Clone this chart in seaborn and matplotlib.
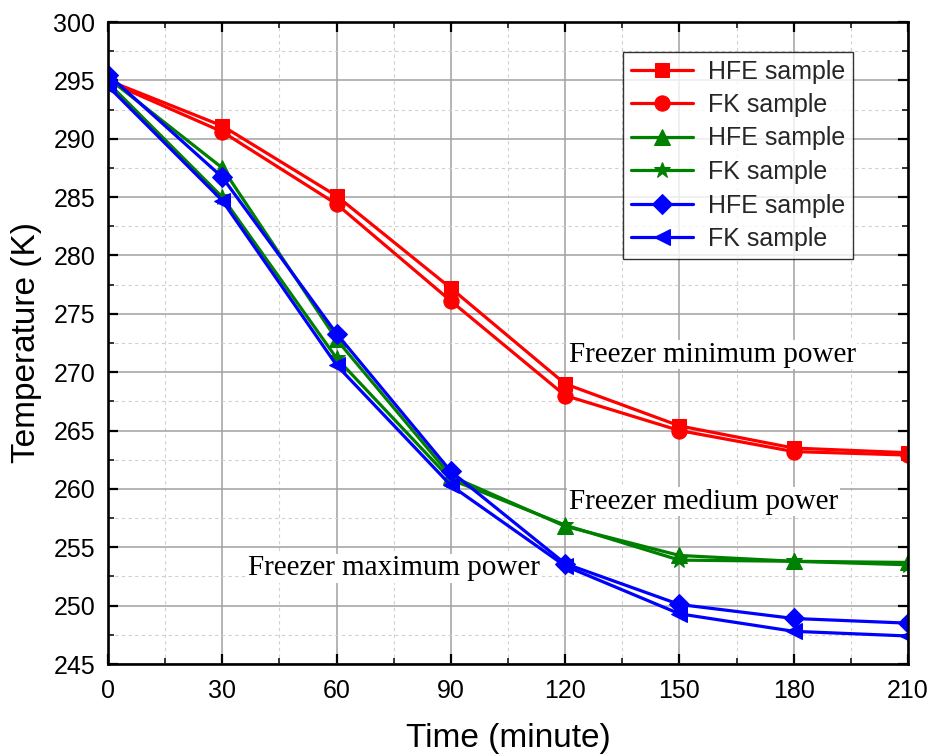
import matplotlib
matplotlib.use("Agg")
import matplotlib.pyplot as plt
import seaborn as sns
import pandas as pd
from matplotlib.ticker import MultipleLocator

time = [0, 30, 60, 90, 120, 150, 180, 210]
labels = ["HFE sample", "FK sample", "HFE sample", "FK sample", "HFE sample", "FK sample"]
red_hfe = [295.0, 291.1, 285.1, 277.2, 269.0, 265.4, 263.5, 263.1]
red_fk = [294.9, 290.6, 284.4, 276.1, 268.0, 265.0, 263.2, 262.9]
green_hfe = [295.2, 287.5, 272.8, 261.1, 256.8, 254.3, 253.8, 253.7]
green_fk = [294.8, 285.0, 271.2, 260.8, 256.9, 253.9, 253.8, 253.5]
blue_hfe = [295.5, 286.7, 273.3, 261.5, 253.6, 250.1, 248.9, 248.5]
blue_fk = [294.5, 284.7, 270.6, 260.3, 253.4, 249.3, 247.8, 247.4]
series = [red_hfe, red_fk, green_hfe, green_fk, blue_hfe, blue_fk]
colors = ["#ff0000", "#ff0000", "#008000", "#008000", "#0000ff", "#0000ff"]
markers = ["s", "o", "^", "*", "D", "<"]
msizes = [10, 11, 11, 12, 10, 11]

sns.set_theme(style="white")
plt.rcParams['font.family'] = ['Liberation Sans', 'DejaVu Sans']

fig = plt.figure(figsize=(9.31, 7.56), dpi=100)
ax = fig.add_axes([108/931, 1-664/756, 800/931, 642/756])

for vals, lab, c, m, ms in zip(series, labels, colors, markers, msizes):
    df = pd.DataFrame({"Time": time, "Temp": vals})
    sns.lineplot(data=df, x="Time", y="Temp", ax=ax, color=c, marker=m,
                 markersize=ms, markeredgecolor=c, linewidth=2.3, label=lab)

ax.set_xlim(0, 210)
ax.set_ylim(245, 300)
ax.xaxis.set_major_locator(MultipleLocator(30))
ax.xaxis.set_minor_locator(MultipleLocator(15))
ax.yaxis.set_major_locator(MultipleLocator(5))
ax.yaxis.set_minor_locator(MultipleLocator(2.5))
ax.grid(which="major", color="#a0a0a0", linewidth=1.1, linestyle="-")
ax.grid(which="minor", color="#d0d0d0", linewidth=0.8, linestyle=(0, (3, 3)))
ax.set_axisbelow(True)
for s in ax.spines.values():
    s.set_visible(True)
    s.set_color("black")
    s.set_linewidth(1.9)
ax.tick_params(which="major", direction="in", length=7, width=1.6, top=True, right=True,
               labelsize=18, colors="black", bottom=True, left=True)
ax.tick_params(axis="x", which="major", pad=11)
ax.tick_params(axis="y", which="major", pad=9)
ax.tick_params(which="minor", direction="in", length=4, width=1.3, top=True, right=True,
               bottom=True, left=True)
ax.set_xlabel("Time (minute)", fontsize=24, labelpad=14, color="black")
ax.set_ylabel("Temperature (K)", fontsize=24, labelpad=8, color="black")

leg = ax.legend(loc="upper right", fontsize=18, frameon=True, fancybox=False,
                edgecolor="black", handlelength=2.5, handletextpad=0.6,
                labelspacing=0.38, borderpad=0.3, borderaxespad=0)
leg.get_frame().set_linewidth(1.0)
leg.set_bbox_to_anchor((853/931, 1-52/756), transform=fig.transFigure)

ann = dict(fontsize=21, family=['Liberation Serif'], color="black",
           bbox=dict(facecolor="white", edgecolor="none", pad=1))
ax.text(121, 271.5, "Freezer minimum power", ha="left", va="center", **ann)
ax.text(121, 258.9, "Freezer medium power", ha="left", va="center", **ann)
ax.text(36.8, 253.2, "Freezer maximum power", ha="left", va="center", **ann)

fig.savefig("out.png", dpi=100)
